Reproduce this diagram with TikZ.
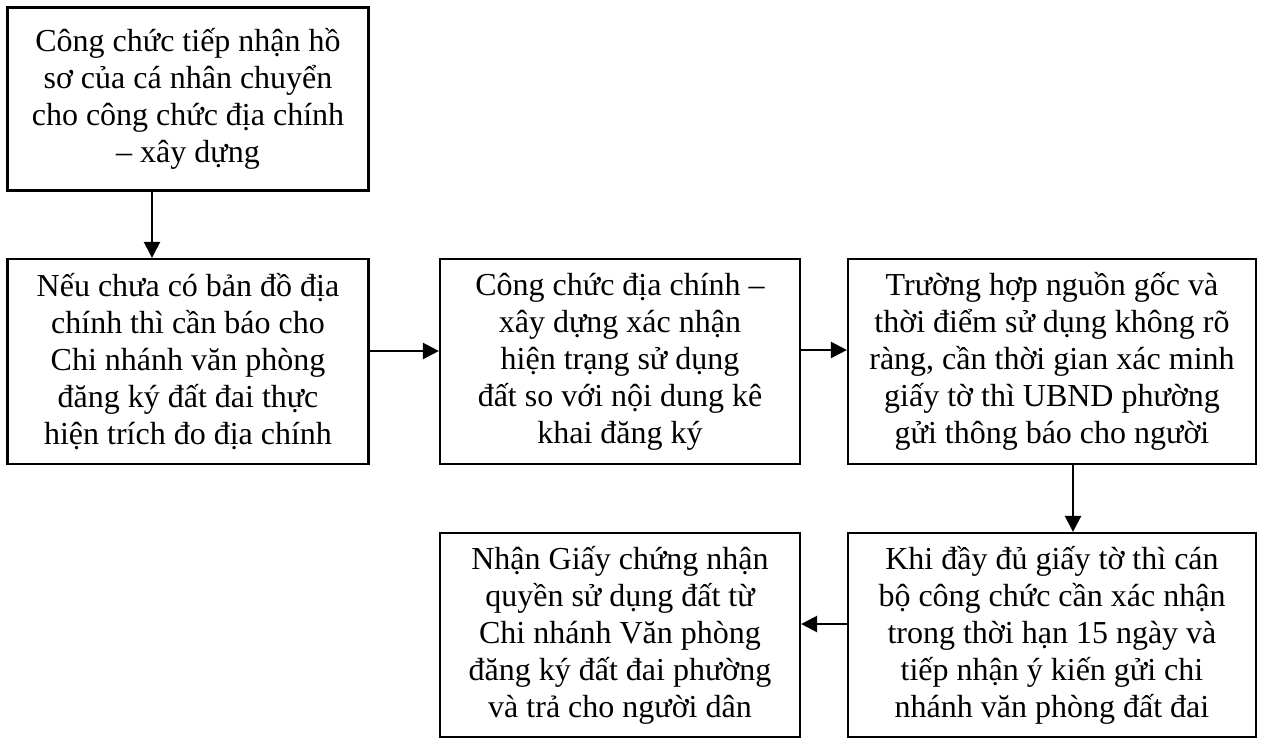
\documentclass[tikz,border=0pt]{standalone}
\usepackage{fontspec}
\setmainfont{Liberation Serif}
\usetikzlibrary{arrows.meta}

\tikzset{
  stepbox/.style={draw=black, line width=2.2pt, fill=white, inner sep=0pt,
    align=center, font=\fontsize{32}{37}\selectfont, anchor=center},
  flow/.style={draw=black, line width=2.4pt,
    -{Triangle[length=16pt,width=16pt]}}
}

\begin{document}
\begin{tikzpicture}[x=1pt, y=-1pt]
  \useasboundingbox[fill=white] (0,0) rectangle (1264,738);

  % process steps
  \node[stepbox, minimum width=361pt, minimum height=183pt] (b1) at (188,99)
    {Công chức tiếp nhận hồ\\ sơ của cá nhân chuyển\\ cho công chức địa chính\\ – xây dựng};
  \node[stepbox, minimum width=361pt, minimum height=205pt] (b2) at (188,361.5)
    {Nếu chưa có bản đồ địa\\ chính thì cần báo cho\\ Chi nhánh văn phòng\\ đăng ký đất đai thực\\ hiện trích đo địa chính};
  \node[stepbox, minimum width=360pt, minimum height=205pt] (b3) at (620,361.5)
    {Công chức địa chính –\\ xây dựng xác nhận\\ hiện trạng sử dụng\\ đất so với nội dung kê\\ khai đăng ký};
  \node[stepbox, minimum width=408pt, minimum height=205pt] (b4) at (1052,361.5)
    {Trường hợp nguồn gốc và\\ thời điểm sử dụng không rõ\\ ràng, cần thời gian xác minh\\ giấy tờ thì UBND phường\\ gửi thông báo cho người};
  \node[stepbox, minimum width=408pt, minimum height=204pt] (b5) at (1052,635)
    {Khi đầy đủ giấy tờ thì cán\\ bộ công chức cần xác nhận\\ trong thời hạn 15 ngày và\\ tiếp nhận ý kiến gửi chi\\ nhánh văn phòng đất đai};
  \node[stepbox, minimum width=360pt, minimum height=204pt] (b6) at (620,635)
    {Nhận Giấy chứng nhận\\ quyền sử dụng đất từ\\ Chi nhánh Văn phòng\\ đăng ký đất đai phường\\ và trả cho người dân};

  % connector tracks
  \coordinate (t12) at (152,0);
  \coordinate (t23) at (0,351);
  \coordinate (t34) at (0,350);
  \coordinate (t45) at (1073,0);
  \coordinate (t56) at (0,624);

  % connectors
  \draw[flow] (b1.south -| t12) -- (b2.north -| t12);
  \draw[flow] (b2.east |- t23) -- (b3.west |- t23);
  \draw[flow] (b3.east |- t34) -- (b4.west |- t34);
  \draw[flow] (b4.south -| t45) -- (b5.north -| t45);
  \draw[flow] (b5.west |- t56) -- (b6.east |- t56);
\end{tikzpicture}
\end{document}
